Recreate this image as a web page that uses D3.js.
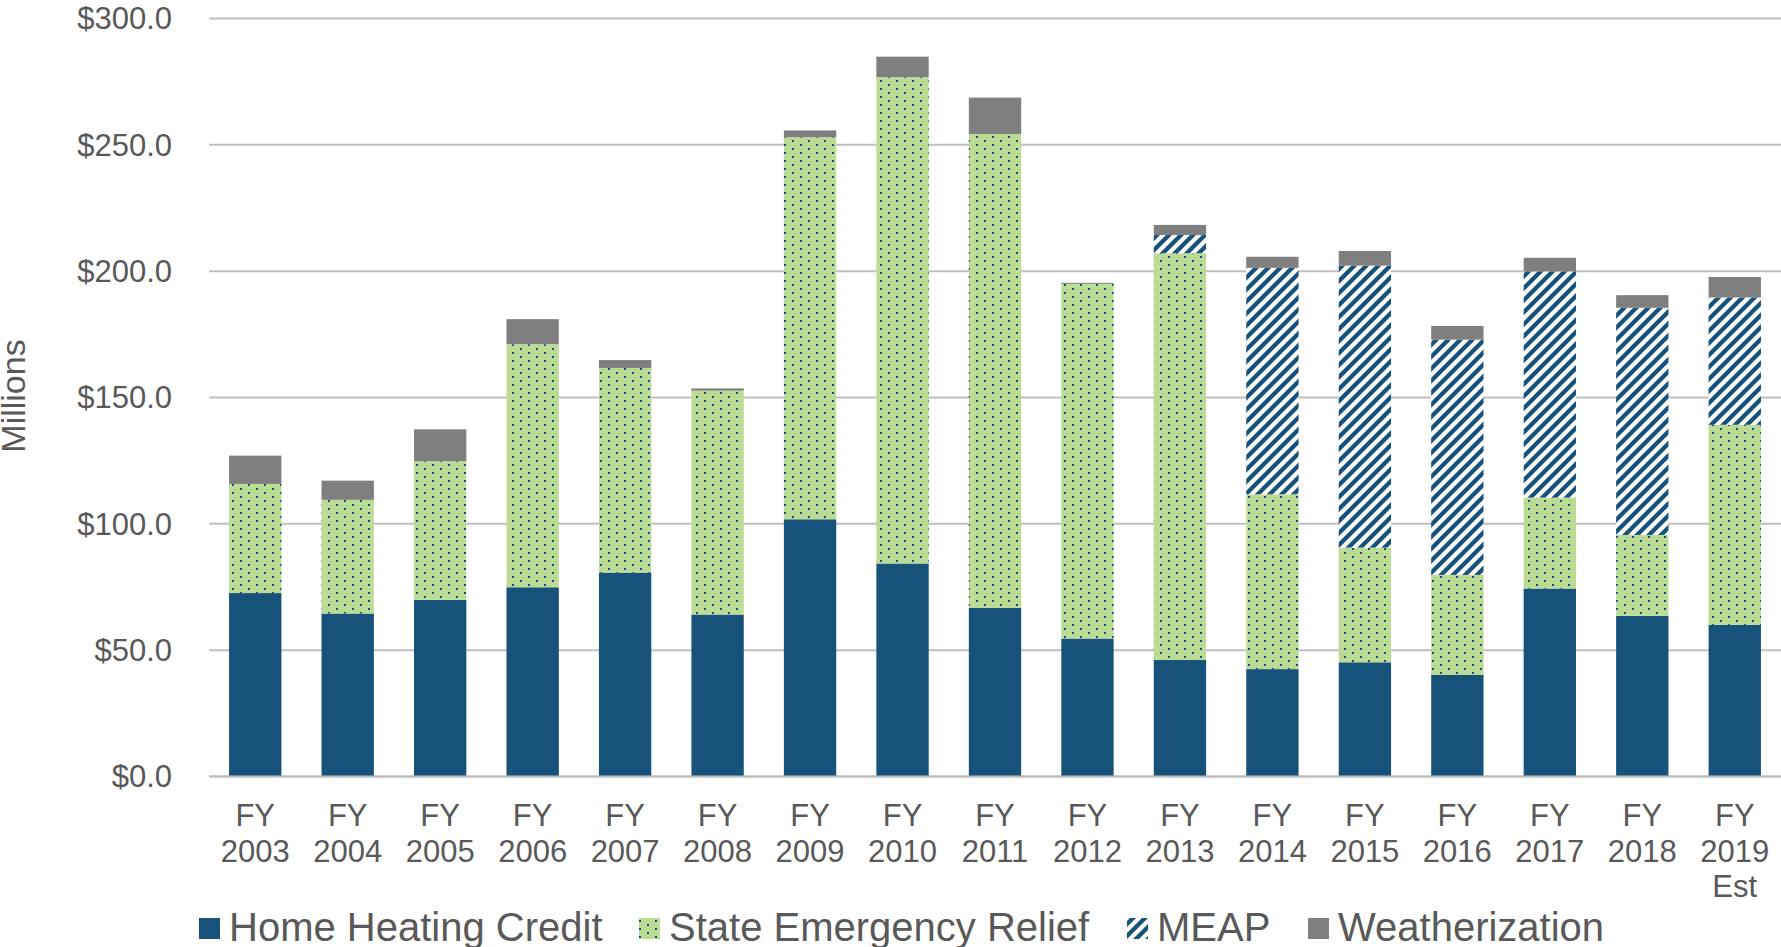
<!DOCTYPE html>
<html><head><meta charset="utf-8">
<script src="https://cdn.jsdelivr.net/npm/d3@7"></script>
<style>body{margin:0;background:#fff} svg{display:block}</style>
</head><body><svg id="c" width="1781" height="947"></svg>
<script>
const categories = ["FY 2003","FY 2004","FY 2005","FY 2006","FY 2007","FY 2008","FY 2009","FY 2010","FY 2011","FY 2012","FY 2013","FY 2014","FY 2015","FY 2016","FY 2017","FY 2018","FY 2019 Est"];
const tickLabels = [["FY","2003"],["FY","2004"],["FY","2005"],["FY","2006"],["FY","2007"],["FY","2008"],["FY","2009"],["FY","2010"],["FY","2011"],["FY","2012"],["FY","2013"],["FY","2014"],["FY","2015"],["FY","2016"],["FY","2017"],["FY","2018"],["FY","2019","Est"]];
const homeHeatingCredit = [72.4,64.3,69.7,74.7,80.5,63.9,101.6,84.1,66.6,54.4,45.9,42.3,45.0,40.0,74.2,63.4,59.8];
const stateEmergencyRelief = [43.2,45.0,54.9,96.2,81.0,88.6,151.2,192.5,187.5,140.4,161.0,69.2,45.4,39.6,36.0,32.0,79.2];
const meap = [0,0,0,0,0,0,0,0,0,0,7.2,89.6,111.6,93.1,89.5,89.9,50.4];
const weatherization = [11.2,7.6,12.6,9.9,3.1,0.9,2.7,8.1,14.4,0.4,4.0,4.4,5.8,5.4,5.4,5.0,8.1];
const seriesNames = ["Home Heating Credit","State Emergency Relief","MEAP","Weatherization"];
const yTicks = [0,50,100,150,200,250,300];

const FONT = "'Liberation Sans', Arial, sans-serif";
const TXT = "#595959";
const BLUE = "#17527b", GREEN = "#bcdb95", GREY = "#7f7f7f";

const svg = d3.select("#c");
const defs = svg.append("defs");
// dotted pattern
const pd = defs.append("pattern").attr("id","dots").attr("patternUnits","userSpaceOnUse").attr("width",16).attr("height",8);
pd.append("rect").attr("width",16).attr("height",8).attr("fill",GREEN);
pd.append("rect").attr("x",0).attr("y",0).attr("width",2).attr("height",2).attr("fill",BLUE);
pd.append("rect").attr("x",8).attr("y",4).attr("width",2).attr("height",2).attr("fill",BLUE);
// diagonal stripes
const P = 12;
const ps = defs.append("pattern").attr("id","stripes").attr("patternUnits","userSpaceOnUse").attr("width",P).attr("height",P);
ps.append("rect").attr("width",P).attr("height",P).attr("fill","#fff");
ps.append("path").attr("d",`M${-P/2},${P/2} L${P/2},${-P/2} M0,${P} L${P},0 M${P/2},${1.5*P} L${1.5*P},${P/2}`).attr("stroke",BLUE).attr("stroke-width",4.3);

const fills = [BLUE,"url(#dots)","url(#stripes)",GREY];

const x = d3.scaleBand().domain(categories).range([209,1781]).paddingInner(0.434).paddingOuter(0.217);
const y = d3.scaleLinear().domain([0,300]).range([776,18]);

// gridlines + y labels
const ga = svg.append("g").attr("transform","translate(209,0)")
  .call(d3.axisLeft(y).tickValues(yTicks).tickSize(-1572).tickPadding(37).tickFormat(d=>"$"+d.toFixed(1)));
ga.select(".domain").remove();
ga.selectAll("line").attr("stroke","#bfbfbf").attr("stroke-width",2);
ga.selectAll("text").attr("font-family",FONT).attr("font-size",31).attr("fill",TXT).attr("dy","0.35em");

// bars
const rows = categories.map((c,i)=>({cat:c, s0:homeHeatingCredit[i], s1:stateEmergencyRelief[i], s2:meap[i], s3:weatherization[i]}));
const stacked = d3.stack().keys(["s0","s1","s2","s3"])(rows);
svg.append("g").selectAll("g").data(stacked).join("g")
  .attr("fill",(d,i)=>fills[i])
  .selectAll("rect").data(d=>d).join("rect")
  .attr("x",d=>x(d.data.cat)).attr("width",x.bandwidth())
  .attr("y",d=>y(d[1])).attr("height",d=>Math.max(0,y(d[0])-y(d[1])));

// x axis
const gx = svg.append("g").attr("transform","translate(0,776)")
  .call(d3.axisBottom(x).tickSize(0).tickPadding(0).tickSizeOuter(0));
gx.select(".domain").attr("stroke","#bfbfbf").attr("stroke-width",2);
gx.selectAll("text").each(function(d,i){
  const t = d3.select(this).text(null).attr("y",0).attr("dy",null)
    .attr("font-family",FONT).attr("font-size",31).attr("fill",TXT);
  tickLabels[i].forEach((l,j)=>{
    t.append("tspan").attr("x",0).attr("y",50+j*35.7).text(l);
  });
});

// y title
svg.append("text").attr("transform","translate(25,396) rotate(-90)")
  .attr("text-anchor","middle").attr("font-family",FONT).attr("font-size",34).attr("fill",TXT).text("Millions");

// legend
const legX = [199,639,1127,1308];
const lg = svg.append("g").selectAll("g").data(seriesNames).join("g")
  .attr("transform",(d,i)=>`translate(${legX[i]},0)`);
lg.append("rect").attr("y",918).attr("width",21).attr("height",21).attr("fill",(d,i)=>fills[i]);
lg.append("text").attr("x",30).attr("y",941).attr("font-family",FONT).attr("font-size",40).attr("fill",TXT).text(d=>d);
</script>
</body></html>
